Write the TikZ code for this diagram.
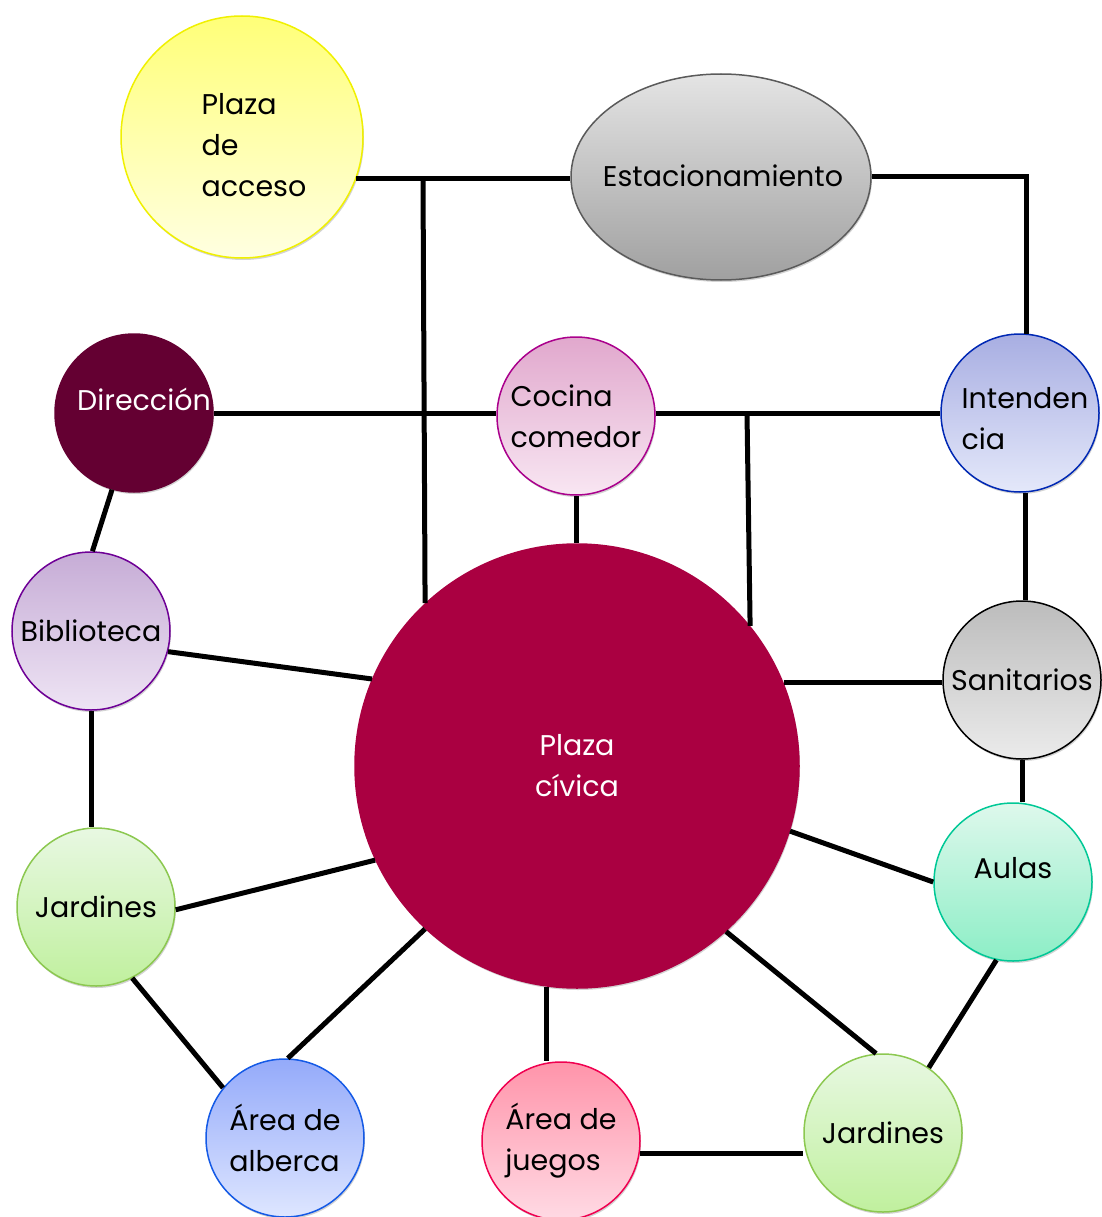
\documentclass[tikz,border=0pt]{standalone}
\usepackage{fontspec}
\setmainfont{Poppins}
\usepackage{tikz}
\usetikzlibrary{shapes.geometric,shadows,positioning}
\definecolor{maroon}{RGB}{100,0,50}
\definecolor{crimson}{RGB}{170,0,65}
\tikzstyle{bub} = [circle, draw, line width=1.5pt, inner sep=0pt, minimum size=158pt, align=left, font=\fontsize{28.5}{41}\selectfont, drop shadow={shadow xshift=1pt, shadow yshift=-2pt, opacity=0.35}]
\tikzstyle{txt} = [align=left, inner sep=0pt, font=\fontsize{28.5}{41}\selectfont]
\tikzstyle{lnk} = [black, line width=5pt]

\begin{document}
\begin{tikzpicture}[x=1pt, y=-1pt]
	\useasboundingbox (0,0) rectangle (1101,1217);
	% areas
	\node[bub, minimum size=242pt, draw={rgb,255:red,240;green,240;blue,0}, top color={rgb,255:red,255;green,255;blue,120}, bottom color={rgb,255:red,255;green,255;blue,225}] (pacc) at (242,137) {};
	\node[txt] (pacc-t) at (254,145) {Plaza\\de\\acceso};
	\node[bub, ellipse, minimum width=300pt, minimum height=206pt, draw={rgb,255:red,90;green,90;blue,90}, top color={rgb,255:red,228;green,228;blue,228}, bottom color={rgb,255:red,160;green,160;blue,160}] (est) at (721,177) {};
	\node[txt] (est-t) at (723,176) {Estacionamiento};
	\node[bub, draw=maroon, fill=maroon] (dir) at (134,413) {};
	\node[txt, text=white] (dir-t) at (144,399) {Dirección};
	\node[bub, draw={rgb,255:red,170;green,0;blue,140}, top color={rgb,255:red,225;green,168;blue,205}, bottom color={rgb,255:red,248;green,230;blue,242}] (coc) at (576,416) {Cocina\\comedor};
	\node[bub, draw={rgb,255:red,0;green,40;blue,180}, top color={rgb,255:red,168;green,174;blue,226}, bottom color={rgb,255:red,228;green,232;blue,250}] (inten) at (1020,413) {};
	\node[txt] (inten-t) at (1025,419) {Intenden\\cia};
	\node[bub, draw={rgb,255:red,110;green,0;blue,150}, top color={rgb,255:red,198;green,172;blue,214}, bottom color={rgb,255:red,238;green,228;blue,244}] (bib) at (91,631) {Biblioteca};
	\node[bub, minimum size=444pt, draw=crimson, fill=crimson, text=white, align=center] (civica) at (577,766) {Plaza\\cívica};
	\node[bub, draw=black, top color={rgb,255:red,188;green,188;blue,188}, bottom color={rgb,255:red,235;green,235;blue,235}] (san) at (1022,680) {Sanitarios};
	\node[bub, draw={rgb,255:red,140;green,200;blue,80}, top color={rgb,255:red,232;green,248;blue,226}, bottom color={rgb,255:red,192;green,240;blue,158}] (jard1) at (96,907) {Jardines};
	\node[bub, draw={rgb,255:red,0;green,200;blue,150}, top color={rgb,255:red,222;green,248;blue,236}, bottom color={rgb,255:red,140;green,238;blue,198}] (aulas) at (1013,882) {};
	\node[txt] (aulas-t) at (1013,868) {Aulas};
	\node[bub, draw={rgb,255:red,20;green,90;blue,230}, top color={rgb,255:red,148;green,170;blue,250}, bottom color={rgb,255:red,222;green,230;blue,255}] (alb) at (285,1138) {Área de\\alberca};
	\node[bub, draw={rgb,255:red,240;green,0;blue,80}, top color={rgb,255:red,255;green,148;blue,170}, bottom color={rgb,255:red,255;green,218;blue,228}] (jue) at (561,1141) {Área de\\juegos};
	\node[bub, draw={rgb,255:red,140;green,200;blue,80}, top color={rgb,255:red,232;green,248;blue,226}, bottom color={rgb,255:red,192;green,240;blue,158}] (jard2) at (883,1133) {Jardines};

	% junctions
	\coordinate (j1) at (423,180);
	\coordinate (j2) at (747,413);

	% links
	\draw[lnk] (pacc.-20) -- (est.west |- pacc.-20);
	\draw[lnk] (j1) -- (civica.133);
	\draw[lnk] (est.east) -| (inten.85);
	\draw[lnk] (dir.east) -- (coc.west |- dir.east);
	\draw[lnk] (inten.west -| coc.east) -- (inten.west);
	\draw[lnk] (j2) -- (civica.39);
	\draw[lnk] (coc.south) -- (coc.south |- civica.north);
	\draw[lnk] (inten.-86) -- (inten.-86 |- san.north);
	\draw[lnk] (dir.-106) -- (bib.89);
	\draw[lnk] (bib.-15) -- (civica.157);
	\draw[lnk] (bib.south) -- (bib.south |- jard1.north);
	\draw[lnk] (civica.22) -- (civica.22 -| san.west);
	\draw[lnk] (san.south) -- (san.south |- aulas.north);
	\draw[lnk] (civica.-17) -- (aulas.180);
	\draw[lnk] (jard1.-2) -- (civica.-155);
	\draw[lnk] (jard1.-63) -- (alb.141);
	\draw[lnk] (civica.-133) -- (alb.88);
	\draw[lnk] (civica.-98) -- (civica.-98 |- jue.north);
	\draw[lnk] (civica.-48) -- (jard2.95);
	\draw[lnk] (aulas.-102) -- (jard2.55);
	\draw[lnk] (jue.-9) -- (jue.-9 -| jard2.west);
\end{tikzpicture}
\end{document}
